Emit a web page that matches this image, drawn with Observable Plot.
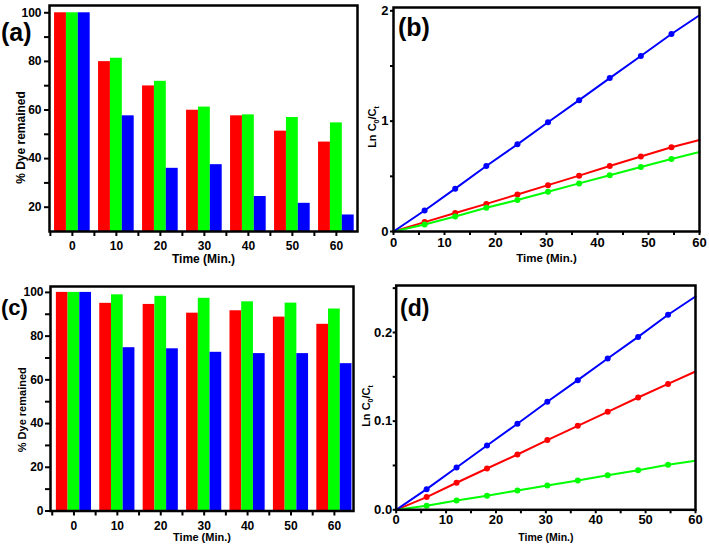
<!DOCTYPE html>
<html><head><meta charset="utf-8">
<script src="https://cdn.jsdelivr.net/npm/d3@7"></script>
<script src="https://cdn.jsdelivr.net/npm/@observablehq/plot@0.6"></script>
<style>
body{margin:0;background:#fff;}
#root{position:relative;width:709px;height:546px;overflow:hidden;font-family:"Liberation Sans",Arial,sans-serif;color:#000;}
.panel{position:absolute;}
.panel svg{overflow:visible;}
.lbl{position:absolute;font-weight:bold;line-height:0.7;white-space:nowrap;}
.ylab{position:absolute;font-weight:bold;white-space:nowrap;line-height:1;transform:translate(-50%,-50%) rotate(-90deg);}
.ylab .s{font-size:7px;position:relative;top:3px;}
</style></head><body><div id="root"></div>
<script>
// ---------- data ----------
const times = [0, 10, 20, 30, 40, 50, 60];
const seriesNames = ["Series 1", "Series 2", "Series 3"];
const seriesColors = ["#ff0000", "#00ff00", "#0000ff"];

// panel (a) % dye remained
const aRed   = [100, 79.9, 69.9, 59.9, 57.6, 51.3, 46.8];
const aGreen = [100, 81.3, 71.8, 61.2, 58.0, 56.9, 54.7];
const aBlue  = [100, 57.6, 36.0, 37.5, 24.4, 21.6, 16.8];

// panel (c) % dye remained
const cRed   = [100, 95.0, 94.5, 90.5, 91.6, 88.7, 85.4];
const cGreen = [100, 98.9, 98.2, 97.3, 95.7, 95.1, 92.4];
const cBlue  = [100, 74.7, 74.2, 72.6, 72.0, 72.0, 67.4];

// kinetics time points
const kinT = [0, 6.1, 12.1, 18.2, 24.3, 30.3, 36.4, 42.4, 48.5, 54.5, 60];
// panel (b) ln C0/Ct
const bRed   = [0, 0.085, 0.167, 0.25, 0.336, 0.42, 0.506, 0.594, 0.68, 0.764, 0.83];
const bGreen = [0, 0.064, 0.136, 0.215, 0.285, 0.36, 0.436, 0.51, 0.585, 0.657, 0.72];
const bBlue  = [0, 0.19, 0.388, 0.594, 0.79, 0.99, 1.19, 1.39, 1.59, 1.79, 1.96];
// panel (d) ln C0/Ct
const dRed   = [0, 0.0143, 0.0305, 0.0466, 0.0624, 0.0786, 0.0947, 0.1105, 0.1267, 0.142, 0.156];
const dGreen = [0, 0.0045, 0.0105, 0.0158, 0.0218, 0.0274, 0.0331, 0.039, 0.0447, 0.0508, 0.0553];
const dBlue  = [0, 0.0233, 0.0477, 0.0726, 0.097, 0.1218, 0.1462, 0.1707, 0.195, 0.22, 0.2406];

// ---------- helpers ----------
const root = document.getElementById("root");
const FONT = "'Liberation Sans', Arial, sans-serif";
const barW = 2.7;
const colorScale = {type: "ordinal", domain: seriesNames, range: seriesColors};

function place(el, left, top) {
  const d = document.createElement("div");
  d.className = "panel";
  d.style.left = left + "px";
  d.style.top = top + "px";
  d.appendChild(el);
  root.appendChild(d);
}
function addLabel(html, cls, left, top, size) {
  const d = document.createElement("div");
  d.className = cls;
  d.style.left = left + "px";
  d.style.top = top + "px";
  d.style.fontSize = size + "px";
  d.innerHTML = html;
  root.appendChild(d);
}

function barRows(r, g, b) {
  return times.flatMap((t, i) => [r[i], g[i], b[i]].map((v, k) => ({t, k, v, s: seriesNames[k]})));
}
function kinRows(r, g, b) {
  return [r, g, b].flatMap((arr, k) => kinT.map((t, i) => ({t, v: arr[i], s: seriesNames[k]})));
}

function barPanel(o) {
  const rows = barRows(o.r, o.g, o.b);
  return Plot.plot({
    width: o.W, height: o.H,
    marginLeft: o.mL, marginRight: o.mR, marginTop: o.mT, marginBottom: o.mB,
    x: {domain: o.xDom},
    y: {domain: o.yDom},
    color: colorScale,
    style: {fontFamily: FONT, fontWeight: "bold", fontSize: "12px", color: "black", background: "transparent"},
    marks: [
      Plot.rectY(rows, {
        x1: d => d.t + (d.k - 1.5) * barW,
        x2: d => d.t + (d.k - 0.5) * barW,
        y1: o.yDom[0], y2: "v", fill: "s"
      }),
      Plot.axisX({ticks: d3.range(-5, 61, 5), tickFormat: d => d % 10 === 0 ? d : "",
        tickSize: 5, tickPadding: o.xPad, strokeWidth: 2, label: null, fontSize: 12, fontWeight: "bold"}),
      Plot.axisY({ticks: o.yTicks, tickFormat: d => d % 20 === 0 ? d : "",
        tickSize: 5, tickPadding: o.yPad, strokeWidth: 2, label: null, fontSize: 12, fontWeight: "bold"}),
      Plot.frame({stroke: "black", strokeWidth: 2.5}),
      Plot.text(["Time (Min.)"], {frameAnchor: "bottom", dy: o.xtDy, lineAnchor: "middle",
        fontSize: o.tSize, fontWeight: "bold"}),
      Plot.text(["% Dye remained"], {frameAnchor: "left", dx: o.ytDx, dy: o.ytDy, rotate: -90,
        lineAnchor: "middle", textAnchor: "middle", fontSize: o.tSize, fontWeight: "bold"})
    ]
  });
}

function kinPanel(o) {
  const rows = kinRows(o.r, o.g, o.b);
  return Plot.plot({
    width: o.W, height: o.H,
    marginLeft: o.mL, marginRight: o.mR, marginTop: o.mT, marginBottom: o.mB,
    x: {domain: [0, 60]},
    y: {domain: o.yDom},
    color: colorScale,
    style: {fontFamily: FONT, fontWeight: "bold", fontSize: "13px", color: "black", background: "transparent"},
    marks: [
      Plot.line(rows, {x: "t", y: "v", z: "s", stroke: "s", strokeWidth: 2}),
      Plot.dot(rows.filter(d => d.t > 0 && d.t < 60), {x: "t", y: "v", fill: "s", r: 3}),
      Plot.axisX({ticks: d3.range(0, 61, 5), tickFormat: d => d % 10 === 0 ? d : "",
        tickSize: 4, tickPadding: o.xPad, strokeWidth: 2, label: null, fontSize: 13, fontWeight: "bold"}),
      Plot.axisY({ticks: o.yTicks, tickFormat: o.yFmt,
        tickSize: 3, tickPadding: o.yPad, strokeWidth: 2, label: null, fontSize: 13, fontWeight: "bold"}),
      Plot.frame({stroke: "black", strokeWidth: 2.5}),
      Plot.text(["Time (Min.)"], {frameAnchor: "bottom", dy: o.xtDy, lineAnchor: "middle",
        fontSize: o.tSize, fontWeight: "bold"})
    ]
  });
}

// ---------- panels ----------
place(barPanel({r: aRed, g: aGreen, b: aBlue, W: 362, H: 270, mL: 49, mR: 5, mT: 5, mB: 39,
  xDom: [-5.2, 64.8], yDom: [10, 103], yTicks: d3.range(20, 101, 10),
  xPad: 5, yPad: 3, xtDy: 28, ytDx: -28, ytDy: 19, tSize: 12}), 0, 0);

place(kinPanel({r: bRed, g: bGreen, b: bBlue, W: 347, H: 270, mL: 31, mR: 10, mT: 7, mB: 39,
  yDom: [0, 2.03], yTicks: [0, 0.5, 1, 1.5, 2], yFmt: d => Number.isInteger(d) ? d : "",
  xPad: 2, yPad: 2, xtDy: 27, tSize: 11.5}), 362, 0);

place(barPanel({r: cRed, g: cGreen, b: cBlue, W: 362, H: 276, mL: 50, mR: 9, mT: 16, mB: 35.5,
  xDom: [-5.4, 64.4], yDom: [0, 102.7], yTicks: d3.range(0, 101, 10),
  xPad: 5, yPad: 2, xtDy: 26.5, ytDx: -28.3, ytDy: 11, tSize: 11}), 0, 270);

place(kinPanel({r: dRed, g: dGreen, b: dBlue, W: 347, H: 276, mL: 33.7, mR: 14, mT: 15, mB: 36.7,
  yDom: [0, 0.253], yTicks: [0, 0.05, 0.1, 0.15, 0.2, 0.25],
  yFmt: d => (Math.round(d * 100) % 10 === 0 ? d.toFixed(1) : ""),
  xPad: 1, yPad: 1, xtDy: 27.4, tSize: 10.5}), 362, 270);

// ---------- text overlays ----------
addLabel("(a)", "lbl", 1, 24, 25);
addLabel("(b)", "lbl", 398, 19, 25);
addLabel("(c)", "lbl", 1, 300, 22);
addLabel("(d)", "lbl", 400, 299.5, 23);
addLabel('Ln C<span class="s">0</span>/C<span class="s">t</span>', "ylab", 372, 127, 11);
addLabel('Ln C<span class="s">0</span>/C<span class="s">t</span>', "ylab", 366, 406, 11);
</script>
</body></html>
